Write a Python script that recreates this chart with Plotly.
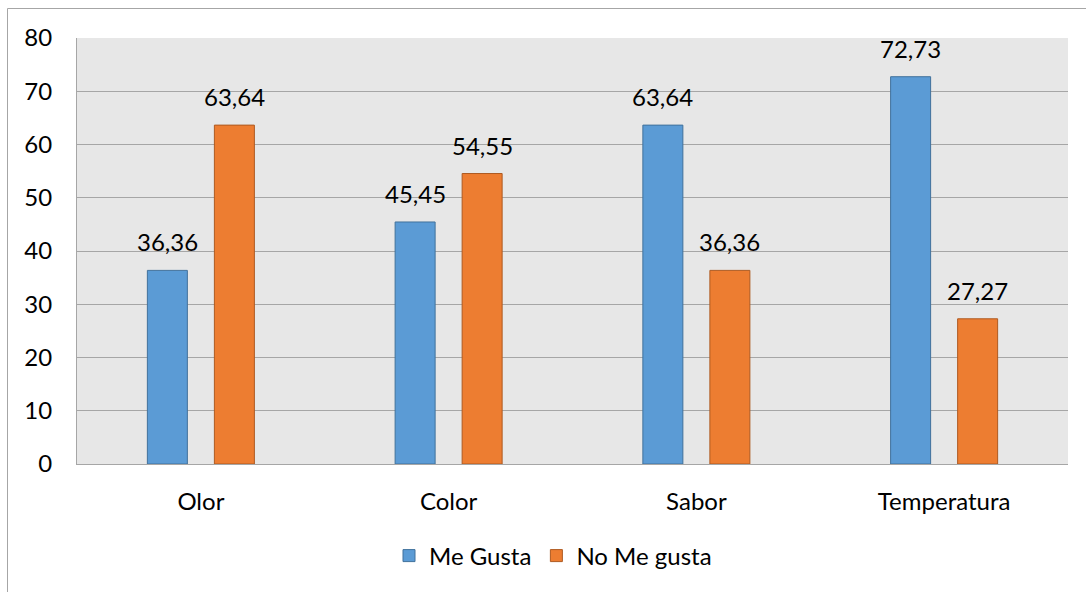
import plotly.graph_objects as go

categories = ["Olor", "Color", "Sabor", "Temperatura"]
me_gusta = [36.36, 45.45, 63.64, 72.73]
no_me_gusta = [63.64, 54.55, 36.36, 27.27]
y_ticks = [0, 10, 20, 30, 40, 50, 60, 70, 80]

def fmt(v):
    return f"{v:.2f}".replace(".", ",")

FONT = "Lato, 'Open Sans', sans-serif"
FS = 24

W, H = 1086, 592
L, R, T, B = 77, 18, 38, 128
pw, ph = W - L - R, H - T - B
BARGAP, BARGROUPGAP = 0.459, 0.403

fig = go.Figure()
fig.add_trace(go.Bar(
    x=categories, y=me_gusta, name="Me Gusta",
    marker=dict(color="#5b9bd5", line=dict(color="#41719c", width=1)),
))
fig.add_trace(go.Bar(
    x=categories, y=no_me_gusta, name="No Me gusta",
    marker=dict(color="#ed7d31", line=dict(color="#ae5a21", width=1)),
))

# data labels centred above each bar (offset = half a group slot)
slot = pw / len(categories) * (1 - BARGAP) / 2
annotations = []
for series, sign in ((me_gusta, -1), (no_me_gusta, 1)):
    for c, v in zip(categories, series):
        annotations.append(dict(
            x=c, y=v, xref="x", yref="y", text=fmt(v), showarrow=False,
            xanchor="center", yanchor="bottom", xshift=sign * slot / 2, yshift=12,
            font=dict(size=FS, color="#000000", family=FONT),
        ))

def px_to_paper_x(px):
    return (px - L) / pw

def px_to_paper_y(py):
    return (H - B - py) / ph

fig.update_layout(
    width=W, height=H,
    margin=dict(l=L, r=R, t=T, b=B, pad=0),
    paper_bgcolor="white", plot_bgcolor="#e7e7e7",
    barmode="group", bargap=BARGAP, bargroupgap=BARGROUPGAP,
    font=dict(family=FONT, size=FS, color="#000000"),
    showlegend=True,
    legend=dict(orientation="h", x=px_to_paper_x(553), xanchor="center", y=px_to_paper_y(556), yanchor="middle",
                font=dict(size=FS), traceorder="normal"),
    xaxis=dict(showgrid=False, ticks="", tickfont=dict(size=FS), showline=True,
               linecolor="#a6a6a6", linewidth=1, ticklabelstandoff=16),
    yaxis=dict(range=[0, 80], tickvals=y_ticks, showgrid=True, gridcolor="#a6a6a6", gridwidth=1,
               zeroline=False, showline=True, linecolor="#a6a6a6", linewidth=1,
               tickfont=dict(size=FS), ticks="", ticklabelstandoff=19),
    annotations=annotations,
    shapes=[
        dict(type="line", xref="paper", yref="paper",
             x0=px_to_paper_x(7.5), x1=px_to_paper_x(1090), y0=px_to_paper_y(8.5), y1=px_to_paper_y(8.5),
             line=dict(color="#a6a6a6", width=1)),
        dict(type="line", xref="paper", yref="paper",
             x0=px_to_paper_x(7.5), x1=px_to_paper_x(7.5), y0=px_to_paper_y(8.5), y1=px_to_paper_y(600),
             line=dict(color="#a6a6a6", width=1)),
    ],
)

fig.write_html("out.html")
